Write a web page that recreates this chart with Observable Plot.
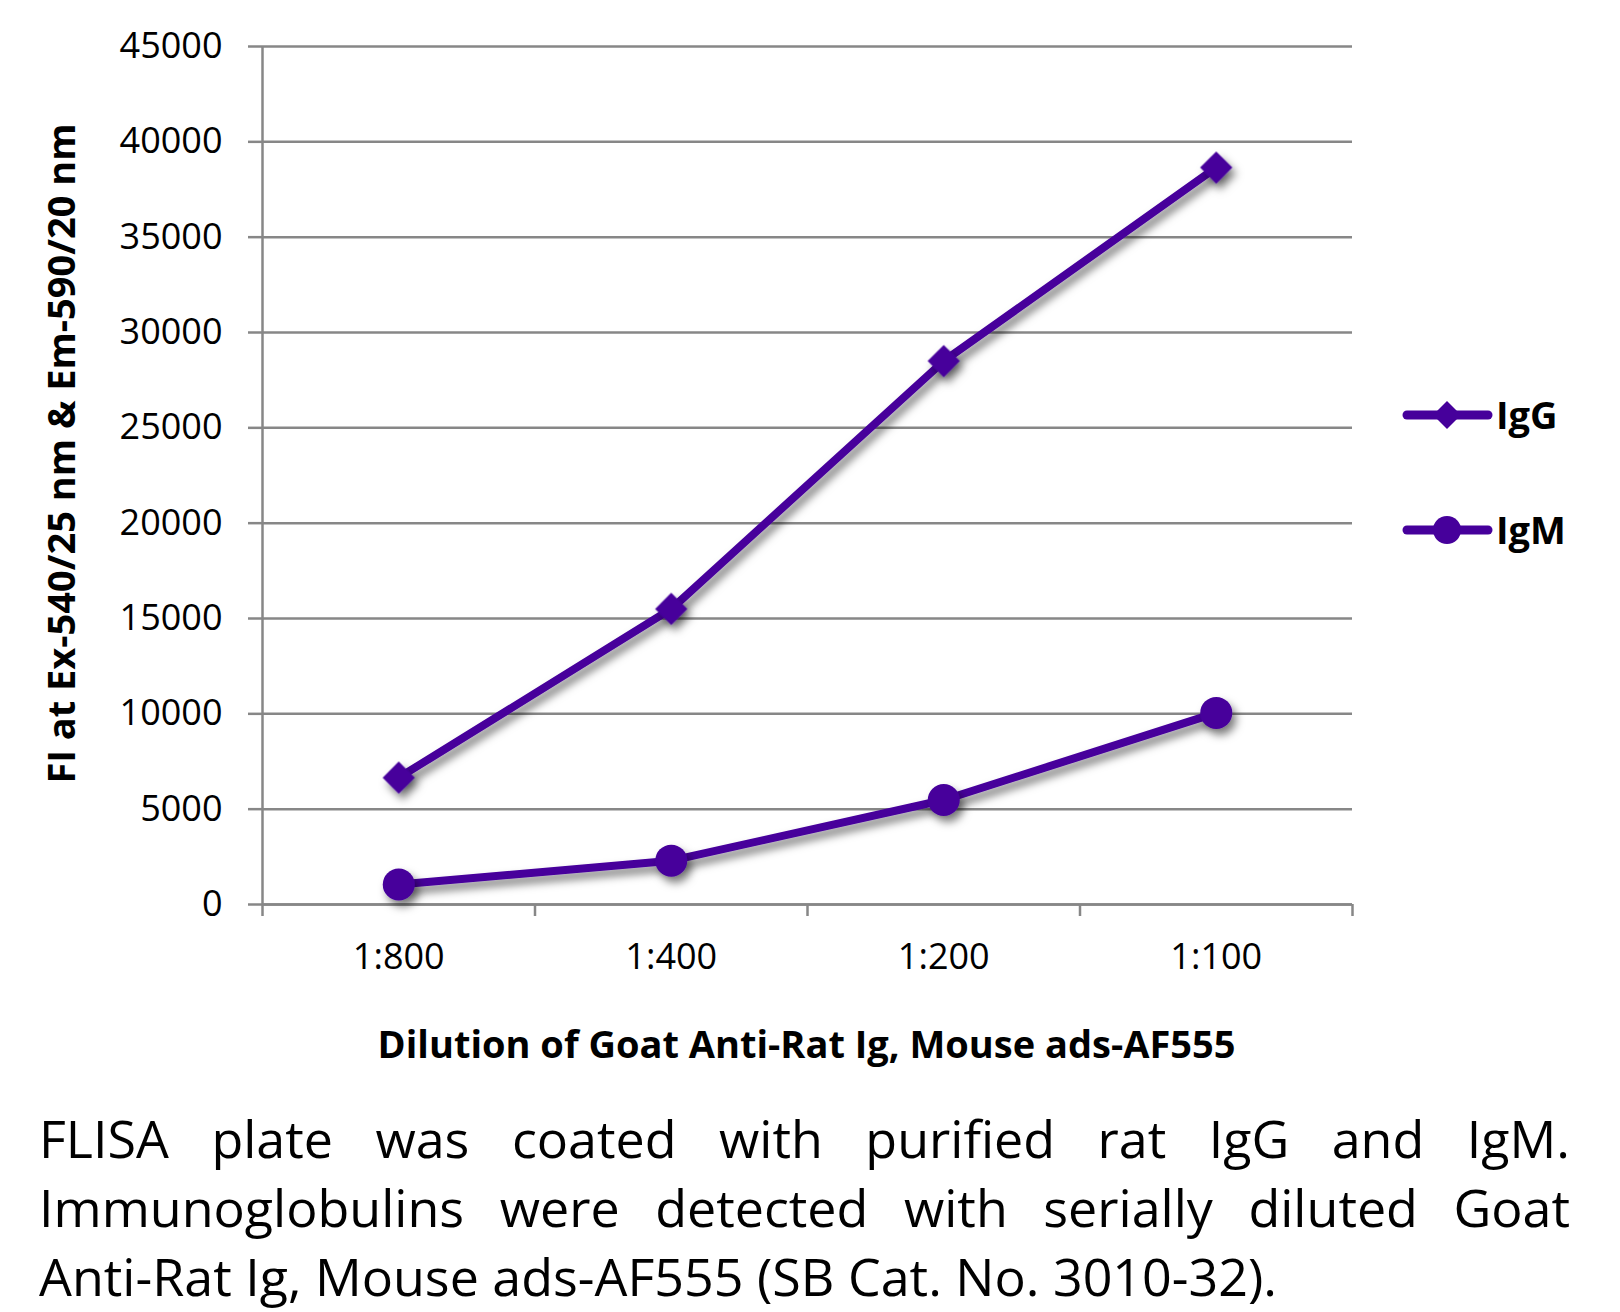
<!DOCTYPE html>
<html>
<head>
<meta charset="utf-8">
<script src="https://cdn.jsdelivr.net/npm/d3@7"></script>
<script src="https://cdn.jsdelivr.net/npm/@observablehq/plot@0.6"></script>
<style>
  html, body { margin: 0; padding: 0; background: #fff; }
  body { width: 1620px; height: 1312px; position: relative; overflow: hidden; font-family: "Open Sans", sans-serif; }
  #chart { position: absolute; left: 0; top: 0; }
  #caption { position: absolute; left: 39px; top: 1103px; width: 1531px; font-size: 52px; line-height: 69px; color: #000; }
  #caption .j { text-align: justify; text-align-last: justify; }
  #caption .l { text-align: left; }
</style>
</head>
<body>
<div id="chart"></div>
<div id="caption"></div>
<script>
const categories = ["1:800", "1:400", "1:200", "1:100"];
const seriesNames = ["IgG", "IgM"];
const igG = [6650, 15500, 28500, 38650];
const igM = [1050, 2300, 5480, 10050];
const yTicks = [0, 5000, 10000, 15000, 20000, 25000, 30000, 35000, 40000, 45000];
const xTitle = "Dilution of Goat Anti-Rat Ig, Mouse ads-AF555";
const yTitle = "FI at Ex-540/25 nm & Em-590/20 nm";
const captionLines = [
  "FLISA plate was coated with purified rat IgG and IgM.",
  "Immunoglobulins were detected with serially diluted Goat",
  "Anti-Rat Ig, Mouse ads-AF555 (SB Cat. No. 3010-32)."
];

const color = "#46009b";
const gridColor = "#878787";

const rowsG = categories.map((c, i) => ({cat: c, pos: i + 0.5, value: igG[i], series: seriesNames[0]}));
const rowsM = categories.map((c, i) => ({cat: c, pos: i + 0.5, value: igM[i], series: seriesNames[1]}));

const plot = Plot.plot({
  width: 1620,
  height: 1100,
  marginLeft: 262,
  marginRight: 268,
  marginTop: 46,
  marginBottom: 196,
  x: {type: "linear", domain: [0, categories.length]},
  y: {domain: [0, 45000]},
  style: {fontFamily: "Open Sans", fontSize: "36px", color: "#000", background: "#fff", overflow: "visible"},
  marks: [
    Plot.gridY(yTicks, {stroke: gridColor, strokeOpacity: 1, strokeWidth: 2.5}),
    Plot.axisY(yTicks, {tickSize: 14, tickPadding: 26, stroke: gridColor, strokeWidth: 2.5, tickFormat: d => String(d), label: null, fontSize: 36}),
    Plot.ruleX([0], {stroke: gridColor, strokeWidth: 2.5}),
    Plot.ruleY([0], {stroke: gridColor, strokeWidth: 2.5}),
    Plot.axisX(d3.range(categories.length + 1), {tickSize: 12, tickFormat: () => "", stroke: gridColor, strokeWidth: 2.5, label: null}),
    Plot.axisX(categories.map((c, i) => i + 0.5), {tickSize: 0, tickPadding: 39, tickFormat: d => categories[Math.round(d - 0.5)], label: null, fontSize: 36}),
    Plot.line(rowsG, {x: "pos", y: "value", stroke: color, strokeWidth: 8, strokeLinejoin: "round", strokeLinecap: "round"}),
    Plot.line(rowsM, {x: "pos", y: "value", stroke: color, strokeWidth: 8, strokeLinejoin: "round", strokeLinecap: "round"}),
    Plot.dot(rowsG, {x: "pos", y: "value", symbol: "diamond2", r: 14.5, fill: color, stroke: "none"}),
    Plot.dot(rowsM, {x: "pos", y: "value", symbol: "circle", r: 16, fill: color, stroke: "none"}),
    Plot.text([xTitle], {frameAnchor: "bottom", dx: -1, dy: 141, fontWeight: "bold", fontSize: 38, fill: "#000", lineAnchor: "middle", textAnchor: "middle"}),
    Plot.text([yTitle], {frameAnchor: "left", dx: -200, dy: -22, rotate: -90, fontWeight: "bold", fontSize: 38, fill: "#000", lineAnchor: "middle", textAnchor: "middle"})
  ]
});

// drop shadow for data marks
const svg = d3.select(plot);
const defs = svg.insert("defs", ":first-child");
const f = defs.append("filter").attr("id", "shadow").attr("x", "-20%").attr("y", "-20%").attr("width", "140%").attr("height", "140%");
f.append("feDropShadow").attr("dx", 4).attr("dy", 6).attr("stdDeviation", 4).attr("flood-color", "#000").attr("flood-opacity", 0.5);
svg.selectAll('g[aria-label="line"], g[aria-label="dot"]').attr("filter", "url(#shadow)");

// legend
const legend = svg.append("g").attr("font-family", "Open Sans").attr("font-weight", "bold").attr("font-size", 38).attr("text-anchor", "start");
const legendY = [415, 530];
seriesNames.forEach((name, k) => {
  const g = legend.append("g").attr("transform", `translate(0,${legendY[k]})`);
  g.append("line").attr("x1", 1407).attr("x2", 1488).attr("y1", 0).attr("y2", 0)
    .attr("stroke", color).attr("stroke-width", 9).attr("stroke-linecap", "round");
  if (k === 0) {
    const s = 14;
    g.append("path").attr("d", `M1447,${-s}L${1447 + s},0L1447,${s}L${1447 - s},0Z`).attr("fill", color);
  } else {
    g.append("circle").attr("cx", 1447).attr("cy", 0).attr("r", 14).attr("fill", color);
  }
  g.append("text").attr("x", 1496).attr("y", 0).attr("dy", "0.36em").attr("text-anchor", "start").attr("fill", "#000").text(name);
});

document.getElementById("chart").appendChild(plot);

const cap = document.getElementById("caption");
captionLines.forEach((t, i) => {
  const d = document.createElement("div");
  d.className = i < captionLines.length - 1 ? "j" : "l";
  d.textContent = t;
  cap.appendChild(d);
});
</script>
</body>
</html>
